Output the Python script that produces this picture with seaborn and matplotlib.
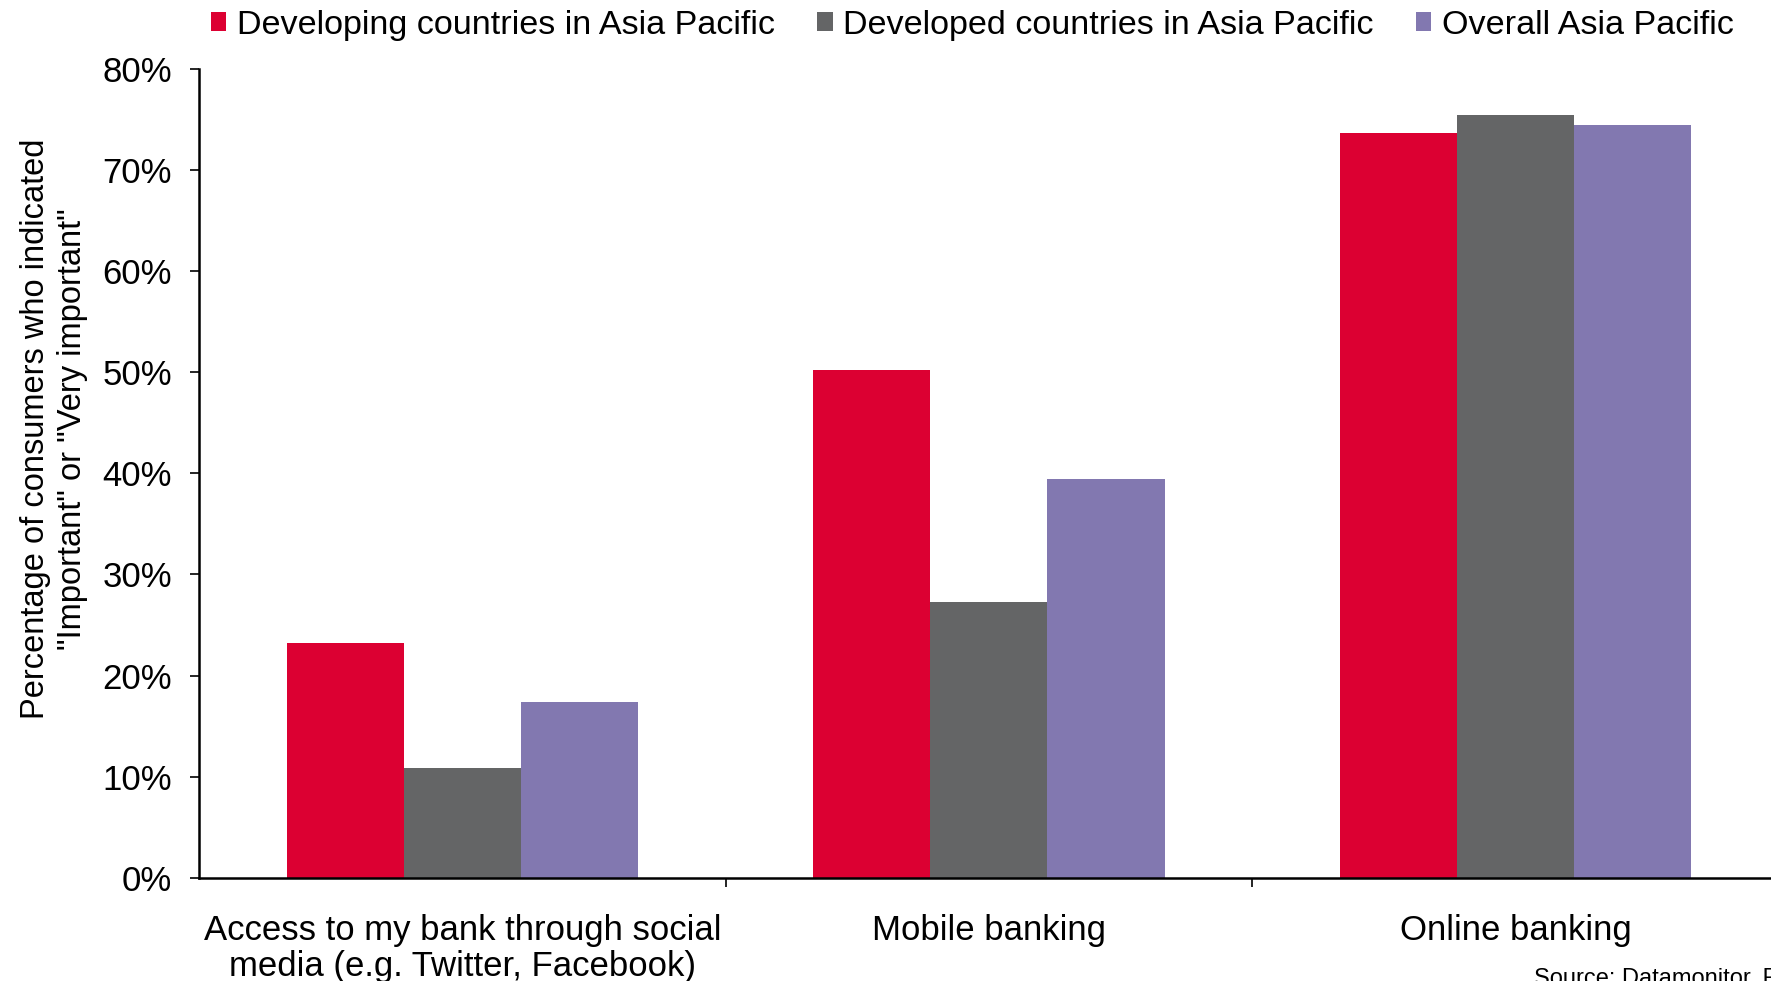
import pandas as pd
import matplotlib
matplotlib.use("Agg")
import matplotlib.pyplot as plt
import seaborn as sns
from matplotlib.ticker import PercentFormatter

# Chart data
categories = ["Access to my bank through social\nmedia (e.g. Twitter, Facebook)",
              "Mobile banking", "Online banking"]
series = ["Developing countries in Asia Pacific",
          "Developed countries in Asia Pacific",
          "Overall Asia Pacific"]
developing = [23.2, 50.2, 73.6]
developed = [10.9, 27.3, 75.4]
overall = [17.4, 39.4, 74.4]
colors = ["#DC0032", "#646566", "#8278B0"]

df = pd.DataFrame({
    "category": categories * 3,
    "series": [series[0]] * 3 + [series[1]] * 3 + [series[2]] * 3,
    "value": developing + developed + overall,
})

sns.set_theme(style="white")
plt.rcParams["font.family"] = ["Liberation Sans", "DejaVu Sans"]
plt.rcParams["text.color"] = "black"
plt.rcParams["axes.labelcolor"] = "black"
plt.rcParams["xtick.color"] = "black"
plt.rcParams["ytick.color"] = "black"

fig = plt.figure(figsize=(17.71, 9.81), dpi=100)
ax = fig.add_axes([0.1124, 0.105, 0.892, 0.825])

sns.barplot(data=df, x="category", y="value", hue="series",
            palette=colors, width=0.667, saturation=1, ax=ax,
            edgecolor="none", linewidth=0)

ax.set_ylim(0, 80)
ax.set_xlim(-0.5, 2.5)
ax.set_yticks(range(0, 81, 10))
ax.yaxis.set_major_formatter(PercentFormatter(decimals=0))
ax.tick_params(axis="y", labelsize=25, length=6.5, width=1.2,
               direction="out", left=True, pad=13)
ax.set_xticks([0, 1, 2])
ax.set_xticklabels(categories, fontsize=25)
ax.set_xticks([0.5, 1.5], minor=True)
ax.tick_params(axis="x", which="major", length=0, pad=26)
ax.tick_params(axis="x", which="minor", length=6.5, width=1.2,
               direction="out", bottom=True)
for lbl in ax.get_xticklabels():
    lbl.set_linespacing(1.1)

for side in ["top", "right"]:
    ax.spines[side].set_visible(False)
for side in ["left", "bottom"]:
    ax.spines[side].set_color("black")
    ax.spines[side].set_linewidth(1.8)

ax.set_xlabel("")
ax.set_ylabel("Percentage of consumers who indicated\n\"Important\" or \"Very important\"",
              fontsize=23.5, labelpad=10, linespacing=1.25, y=0.555)

handles, labels = ax.get_legend_handles_labels()
ax.get_legend().remove()
fig.legend(handles, labels, loc="upper left", bbox_to_anchor=(0.1191, 0.990),
           ncol=3, frameon=False, fontsize=24.6, handlelength=0.45,
           handleheight=0.45, handletextpad=0.3, columnspacing=1.25,
           borderpad=0, borderaxespad=0)

fig.text(0.866, 0.0133, "Source: Datamonitor, F", fontsize=17, va="top", ha="left")

fig.savefig("out.png", dpi=100)
